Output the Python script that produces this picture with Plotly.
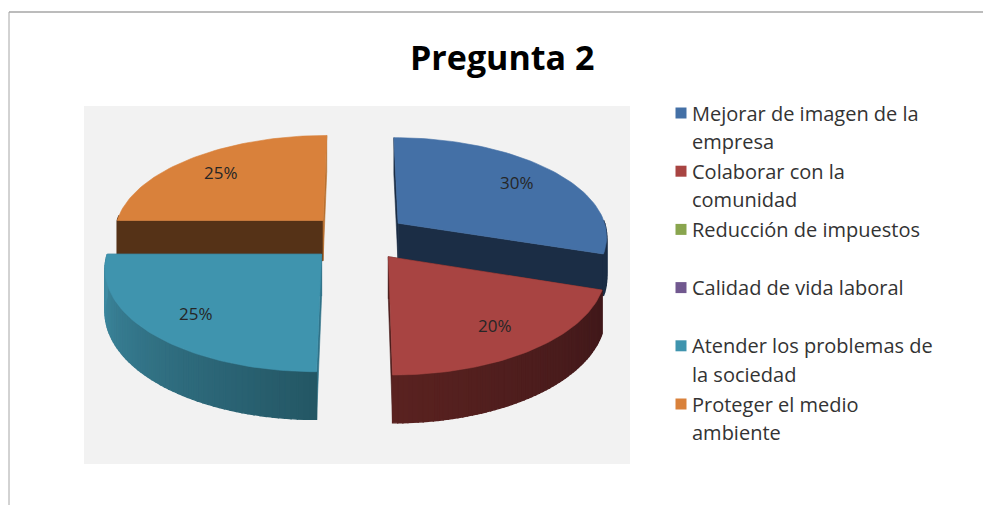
import math
import numpy as np
import plotly.graph_objects as go

# values as labelled on the chart, clockwise from 12 o'clock
labels = ['Mejorar de imagen de la<br>empresa', 'Colaborar con la<br>comunidad', 'Reducción de impuestos',
          'Calidad de vida laboral', 'Atender los problemas de<br>la sociedad', 'Proteger el medio<br>ambiente']
values = [30, 20, 0, 0, 25, 25]
title = 'Pregunta 2'

colors = ['#4470A6', '#A84442', '#89A54E', '#71588F', '#3F94AE', '#D9813B']
cut_start = ['#1B2D45', '#4A1C1B', '#89A54E', '#71588F', '#2F7288', '#553217']
cut_end = ['#1B2D45', '#4A1C1B', '#89A54E', '#71588F', '#2F7288', '#B8702F']
rim_from = ['#1B2D45', '#40181A', '#89A54E', '#71588F', '#245765', '#553217']
rim_to = ['#1B2D45', '#5A2220', '#89A54E', '#71588F', '#3F8CA4', '#553217']
draw_order = [5, 0, 4, 1]

# projection of the tilted pie onto the page
CX, CY, RX, RY, PERSP, DEPTH, EXPLODE = 358, 237, 210, 99, 0.12, 41, 0.24


def project(u, d, drop=0.0):
    s = 1 / (1 + PERSP * d)
    return CX + RX * u * s, CY - RY * d * s + drop * s


def mix(a, b, t):
    ca = [int(a[i:i + 2], 16) for i in (1, 3, 5)]
    cb = [int(b[i:i + 2], 16) for i in (1, 3, 5)]
    return 'rgb(%d,%d,%d)' % tuple(round(x + (y - x) * t) for x, y in zip(ca, cb))


def poly(fig, pts, color, width=0.6):
    xs = [p[0] for p in pts] + [pts[0][0]]
    ys = [p[1] for p in pts] + [pts[0][1]]
    fig.add_trace(go.Scatter(x=xs, y=ys, mode='lines', fill='toself', fillcolor=color,
                             line=dict(color=color, width=width), hoverinfo='skip', showlegend=False))


fig = go.Figure()

# slice angles from the values
total = sum(values)
starts = np.cumsum([0] + values[:-1]) / total * 2 * math.pi
ends = np.cumsum(values) / total * 2 * math.pi

for i in draw_order:
    a0, a1 = starts[i], ends[i]
    mid = (a0 + a1) / 2
    ou, od = EXPLODE * math.sin(mid), EXPLODE * math.cos(mid)
    thetas = np.linspace(a0, a1, 61)
    rim = [(ou + math.sin(t), od + math.cos(t)) for t in thetas]

    # the two cut faces
    for (u, d), c in ((rim[0], cut_start[i]), (rim[-1], cut_end[i])):
        poly(fig, [project(ou, od), project(u, d), project(u, d, DEPTH), project(ou, od, DEPTH)], c)

    # outer wall, only the part that faces the viewer
    for j in range(len(rim) - 1):
        if math.cos(thetas[j]) < 0.05:
            t = (thetas[j] - a0) / (a1 - a0)
            poly(fig, [project(*rim[j]), project(*rim[j + 1]), project(*rim[j + 1], DEPTH), project(*rim[j], DEPTH)],
                 mix(rim_from[i], rim_to[i], t), width=1.4)

    # top surface
    poly(fig, [project(ou, od)] + [project(u, d) for u, d in rim], colors[i])

    # data label
    lx, ly = project(ou + 0.76 * math.sin(mid), od + 0.76 * math.cos(mid))
    fig.add_annotation(x=lx, y=ly, text=f'{values[i]}%', showarrow=False,
                       font=dict(family='Open Sans', size=17, color='#262626'))

# legend, one annotation per line because the line pitch is wider than plotly's
row_y = 113
for name, c in zip(labels, colors):
    fig.add_trace(go.Scatter(x=[681], y=[row_y], mode='markers', hoverinfo='skip', showlegend=False,
                             marker=dict(symbol='square', size=11, color=c)))
    for k, line in enumerate(name.split('<br>')):
        fig.add_annotation(x=690, y=row_y + k * 28.5, text=line, showarrow=False, xanchor='left', align='left',
                           font=dict(family='Open Sans', size=20, color='#333333'))
    row_y += 58.2

fig.add_annotation(x=502, y=57, text=f'<b>{title}</b>', showarrow=False,
                   font=dict(family='Open Sans', size=34, color='#000000'))

fig.update_layout(
    width=983, height=505, margin=dict(l=0, r=0, t=0, b=0),
    paper_bgcolor='#FFFFFF', plot_bgcolor='#FFFFFF',
    xaxis=dict(range=[0, 983], visible=False, fixedrange=True),
    yaxis=dict(range=[505, 0], visible=False, fixedrange=True),
    showlegend=False,
    shapes=[
        dict(type='rect', x0=84, x1=630, y0=106, y1=464, fillcolor='#F2F2F2', line_width=0, layer='below'),
        dict(type='line', x0=9, x1=983, y0=12, y1=12, line=dict(color='#A6A6A6', width=1.5), layer='below'),
        dict(type='line', x0=9, x1=9, y0=12, y1=505, line=dict(color='#A6A6A6', width=1), layer='below'),
    ],
)

# page margin off so the figure fills the window
fig.write_html("out.html", config={'displayModeBar': False}, post_script="document.body.style.margin='0';")
